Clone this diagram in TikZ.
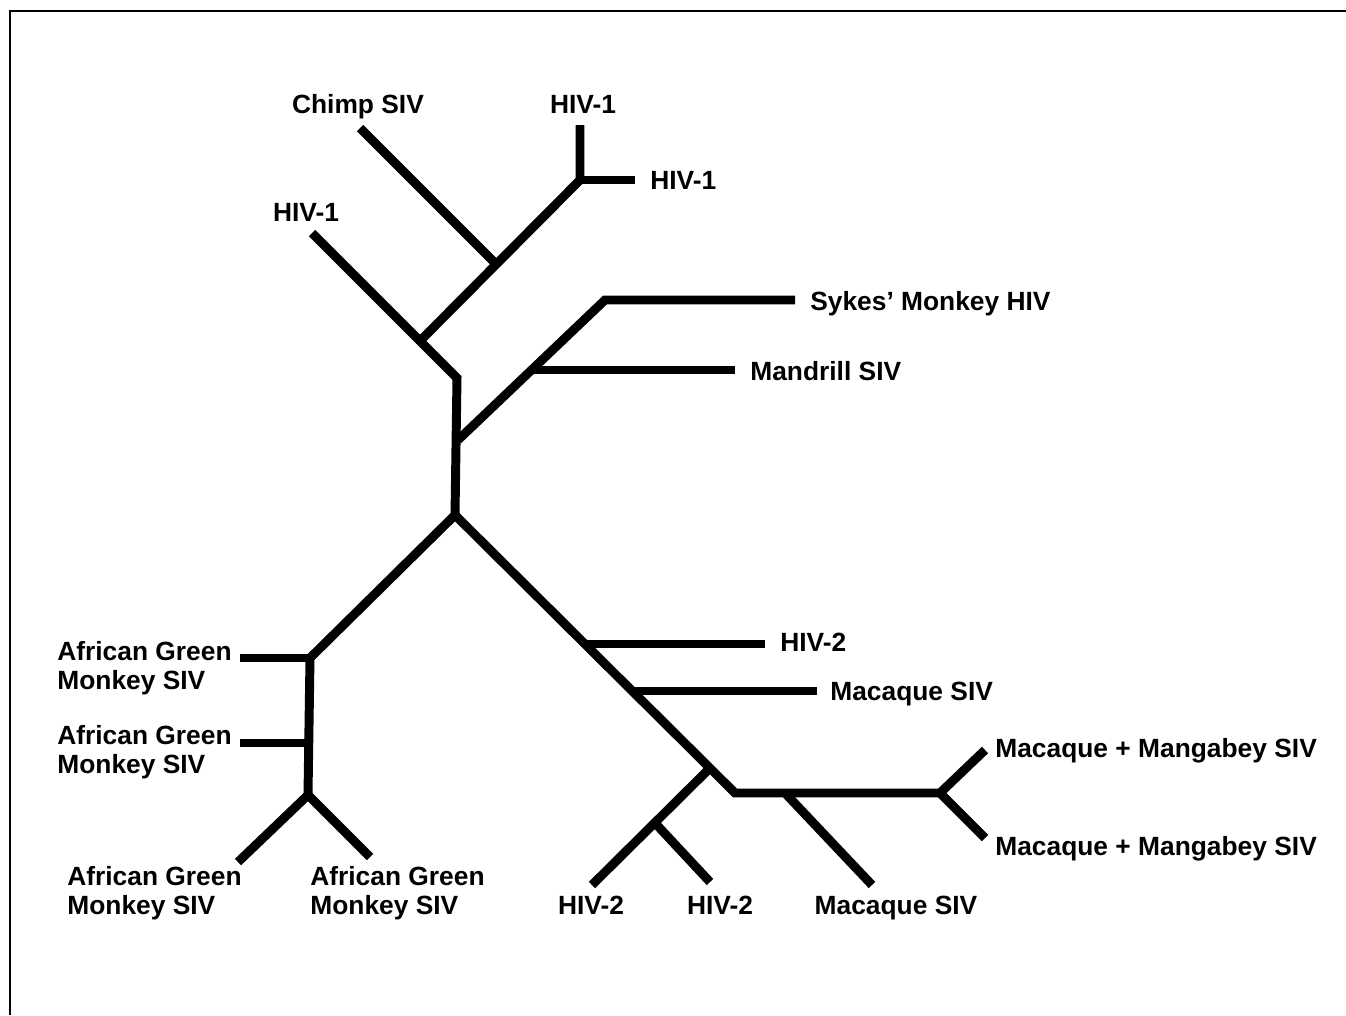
\documentclass[tikz,border=0pt]{standalone}
\usepackage{fontspec}
\setmainfont{Liberation Sans}
\usetikzlibrary{positioning}

\begin{document}
\begin{tikzpicture}[x=0.02cm,y=-0.02cm,branch/.style={line width=5.1pt,line cap=butt,line join=miter},
  every node/.style={font=\fontsize{15}{16.5}\selectfont\bfseries,inner sep=0pt,align=left}]
\useasboundingbox (0,0) rectangle (1346,1015);
\draw[line width=1.1pt] (10,1015)--(10,11)--(1346,11);
% junctions
\coordinate (root) at (455,515); \coordinate (kink) at (457,378);
\coordinate (sb) at (458,440); \coordinate (md) at (533,370); \coordinate (sk) at (605,300);
\coordinate (j1) at (420,341); \coordinate (j2) at (495,263); \coordinate (j3) at (580,180);
\coordinate (agm) at (310,658); \coordinate (agmb) at (308,795); \coordinate (agm2) at (309,743);
\coordinate (h2a) at (585,644); \coordinate (mqa) at (632,691);
\coordinate (h2c) at (710,768); \coordinate (h2s) at (655,823);
\coordinate (hk) at (735,793); \coordinate (mqj) at (785,793); \coordinate (mm) at (940,793);
% leaf ends
\coordinate (h1e) at (312,233); \coordinate (che) at (360,128);
\coordinate (h1t) at (580,125); \coordinate (h1r) at (635,180);
\coordinate (ske) at (795,300); \coordinate (mde) at (735,370);
\coordinate (agm1e) at (240,658); \coordinate (agm2e) at (240,743);
\coordinate (agm3e) at (238,862); \coordinate (agm4e) at (370,857);
\coordinate (h2ae) at (765,644); \coordinate (mqae) at (817,691);
\coordinate (h2le) at (592,885); \coordinate (h2re) at (710,882);
\coordinate (mqe) at (872,885); \coordinate (mm1e) at (985,750); \coordinate (mm2e) at (985,838);
% labels
\node (chimp) at (358,107) {Chimp SIV};
\node (hiv1t) at (583,104) {HIV-1};
\node[anchor=west] (hiv1r) at (650,180) {HIV-1};
\node (hiv1l) at (306,212) {HIV-1};
\node[anchor=west] (sykes) at (810,304) {Sykes’ Monkey HIV};
\node[anchor=west] (mand) at (750,371) {Mandrill SIV};
\node[anchor=west] (hiv2a) at (780,642) {HIV-2};
\node[anchor=west] (maca) at (830,694) {Macaque SIV};
\node[anchor=west] (mma) at (995,751) {Macaque + Mangabey SIV};
\node[anchor=west] (mmb) at (995,849) {Macaque + Mangabey SIV};
\node[anchor=west] (agma) at (57,668) {African Green\\Monkey SIV};
\node[anchor=west] (agmb2) at (57,752) {African Green\\Monkey SIV};
\node[anchor=west] (agmc) at (67,893) {African Green\\Monkey SIV};
\node[anchor=west] (agmd) at (310,893) {African Green\\Monkey SIV};
\node (hiv2b) at (591,905) {HIV-2};
\node (hiv2c) at (720,905) {HIV-2};
\node (macb) at (896,908) {Macaque SIV};
% tree
\draw[branch] (h1e)--(kink)--(root);
\draw[branch] (j1)--(j3)--(h1t); \draw[branch] (j3)--(h1r); \draw[branch] (che)--(j2);
\draw[branch] (sb)--(sk)--(ske); \draw[branch] (md)--(mde);
\draw[branch] (root)--(agm)--(agmb); \draw[branch] (agm1e)--(agm); \draw[branch] (agm2e)--(agm2);
\draw[branch] (agm3e)--(agmb)--(agm4e);
\draw[branch] (root)--(hk)--(mm); \draw[branch] (h2a)--(h2ae); \draw[branch] (mqa)--(mqae);
\draw[branch] (h2c)--(h2le); \draw[branch] (h2s)--(h2re); \draw[branch] (mqj)--(mqe);
\draw[branch] (mm1e)--(mm)--(mm2e);
\end{tikzpicture}
\end{document}
